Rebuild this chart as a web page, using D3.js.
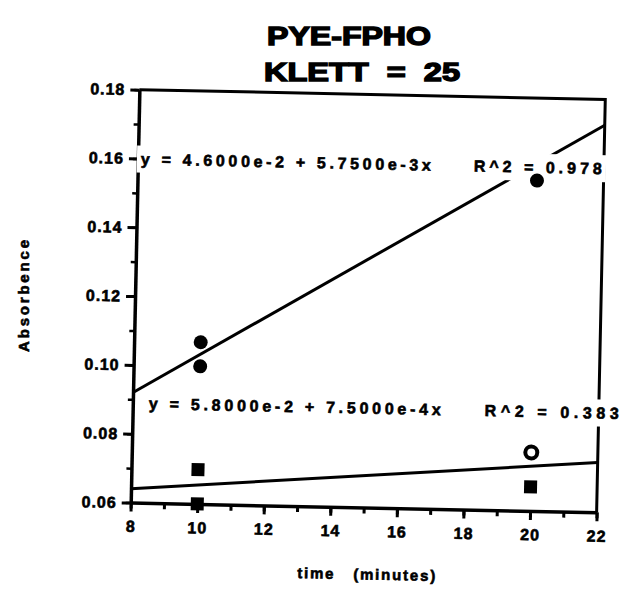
<!DOCTYPE html>
<html>
<head>
<meta charset="utf-8">
<script src="https://cdn.jsdelivr.net/npm/d3@7"></script>
<style>
  body { margin: 0; background: #fff; }
  text { font-family: "Liberation Sans", Arial, sans-serif; font-weight: bold; fill: #000; stroke: #000; stroke-width: 0.6px; }
</style>
</head>
<body>
<script>
// Data
var xTicks = [8, 10, 12, 14, 16, 18, 20, 22];
var yTicks = [0.06, 0.08, 0.10, 0.12, 0.14, 0.16, 0.18];
var titleLines = ["PYE-FPHO", "KLETT  =  25"];
var xTitle = "time   (minutes)";
var yTitle = "Absorbence";

// series 1 (filled circles)
var circleX = [10, 10, 20];
var circleY = [0.107, 0.100, 0.156];
// series 2 (filled squares + one open circle)
var squareX = [10, 10, 20];
var squareY = [0.070, 0.060, 0.067];
var openX = [20];
var openY = [0.077];

// linear fits  y = a + b*x
var fitA = [0.046, 0.058];
var fitB = [0.00575, 0.00075];
var eqText = ["y = 4.6000e-2 + 5.7500e-3x", "y = 5.8000e-2 + 7.5000e-4x"];
var r2Text = ["R^2 = 0.978", "R^2 = 0.383"];

function init(){
  var W = 466, H = 413;

  var svg = d3.select("body")
              .append("svg")
              .attr("width", 624)
              .attr("height", 594);

  // titles
  svg.append("text")
     .attr("x", 267).attr("y", 45)
     .attr("font-size", 25)
     .style("stroke-width", "1.4px")
     .attr("textLength", 164)
     .attr("lengthAdjust", "spacingAndGlyphs")
     .text(titleLines[0]);
  svg.append("text")
     .attr("x", 264).attr("y", 81)
     .attr("font-size", 25)
     .style("stroke-width", "1.4px")
     .style("white-space", "pre")
     .attr("textLength", 196)
     .attr("lengthAdjust", "spacingAndGlyphs")
     .text(titleLines[1]);

  // y axis title
  svg.append("text")
     .attr("transform", "translate(29,296) rotate(-90)")
     .attr("text-anchor", "middle")
     .attr("font-size", 15)
     .attr("textLength", 112)
     .attr("lengthAdjust", "spacing")
     .text(yTitle);

  // the scanned plot is slightly tilted
  var g = svg.append("g")
             .attr("transform", "translate(368,301) rotate(1.2) translate(" + (-W / 2) + "," + (-H / 2) + ")");

  var x = d3.scaleLinear().domain([8, 22]).range([0, W]);
  var y = d3.scaleLinear().domain([0.06, 0.18]).range([H, 0]);

  // frame (top + right)
  g.append("path")
   .attr("d", "M0,0H" + W + "V" + H)
   .attr("fill", "none")
   .attr("stroke", "#000")
   .attr("stroke-width", 3);

  // minor ticks
  var xMinor = d3.range(8, 22.5, 1);
  var yMinor = d3.range(0.06, 0.1801, 0.01);
  g.append("g")
   .attr("transform", "translate(0," + H + ")")
   .call(d3.axisBottom(x).tickValues(xMinor).tickSize(6).tickFormat(""))
   .call(function(a){ a.select(".domain").remove(); a.selectAll("line").attr("stroke-width", 3); });
  g.append("g")
   .call(d3.axisLeft(y).tickValues(yMinor).tickSize(5).tickFormat(""))
   .call(function(a){ a.select(".domain").remove(); a.selectAll("line").attr("stroke-width", 2.5); });

  // main axes
  var xAxis = g.append("g")
               .attr("transform", "translate(0," + H + ")")
               .call(d3.axisBottom(x).tickValues(xTicks).tickSize(9).tickSizeOuter(0).tickPadding(9).tickFormat(d3.format("d")));
  var yAxis = g.append("g")
               .call(d3.axisLeft(y).tickValues(yTicks).tickSize(9).tickSizeOuter(0).tickPadding(5).tickFormat(d3.format(".2f")));
  [xAxis, yAxis].forEach(function(a){
    a.select(".domain").attr("stroke-width", 3.5);
    a.selectAll(".tick line").attr("stroke-width", 3);
    a.selectAll("text")
     .attr("font-size", 16)
     .attr("font-family", null)
     .attr("fill", null)
     .attr("letter-spacing", 1);
  });

  // x axis title
  g.append("text")
   .attr("x", W / 2 + 4).attr("y", H + 72)
   .attr("text-anchor", "middle")
   .attr("font-size", 15)
   .style("white-space", "pre")
   .attr("textLength", 138)
   .attr("lengthAdjust", "spacing")
   .text(xTitle);

  // regression lines
  var line = d3.line().x(function(d){ return x(d[0]); }).y(function(d){ return y(d[1]); });
  fitA.forEach(function(a, i){
    var ends = x.domain().map(function(t){ return [t, a + fitB[i] * t]; });
    g.append("path")
     .attr("d", line(ends))
     .attr("fill", "none")
     .attr("stroke", "#000")
     .attr("stroke-width", 3);
  });

  // equation labels with white boxes (they cover the lines / axes)
  var labels = [
    {t: eqText[0], x: 3,   y: y(0.16) + 6,  len: 290},
    {t: r2Text[0], x: 336, y: y(0.16) + 6,  len: 128},
    {t: eqText[1], x: 16,  y: y(0.08) - 25, len: 292},
    {t: r2Text[1], x: 352, y: y(0.08) - 25, len: 134}
  ];
  labels.forEach(function(l){
    var box = g.append("rect").attr("fill", "#fff");
    var t = g.append("text")
             .attr("x", l.x).attr("y", l.y)
             .attr("font-size", 16)
             .attr("textLength", l.len)
             .attr("lengthAdjust", "spacing")
             .text(l.t);
    var b = t.node().getBBox();
    box.attr("x", b.x - 4).attr("y", b.y - 5).attr("width", b.width + 8).attr("height", b.height + 10);
  });

  // markers
  g.selectAll(".dot1")
   .data(circleX)
   .enter()
   .append("circle")
   .attr("cx", function(d){ return x(d); })
   .attr("cy", function(d, i){ return y(circleY[i]); })
   .attr("r", 7)
   .attr("fill", "#000");

  g.selectAll(".sq")
   .data(squareX)
   .enter()
   .append("rect")
   .attr("x", function(d){ return x(d) - 6.5; })
   .attr("y", function(d, i){ return y(squareY[i]) - 6.5; })
   .attr("width", 13)
   .attr("height", 13)
   .attr("fill", "#000");

  g.selectAll(".open")
   .data(openX)
   .enter()
   .append("circle")
   .attr("cx", function(d){ return x(d); })
   .attr("cy", function(d, i){ return y(openY[i]); })
   .attr("r", 6)
   .attr("fill", "#fff")
   .attr("stroke", "#000")
   .attr("stroke-width", 4);
}

init();
</script>
</body>
</html>
